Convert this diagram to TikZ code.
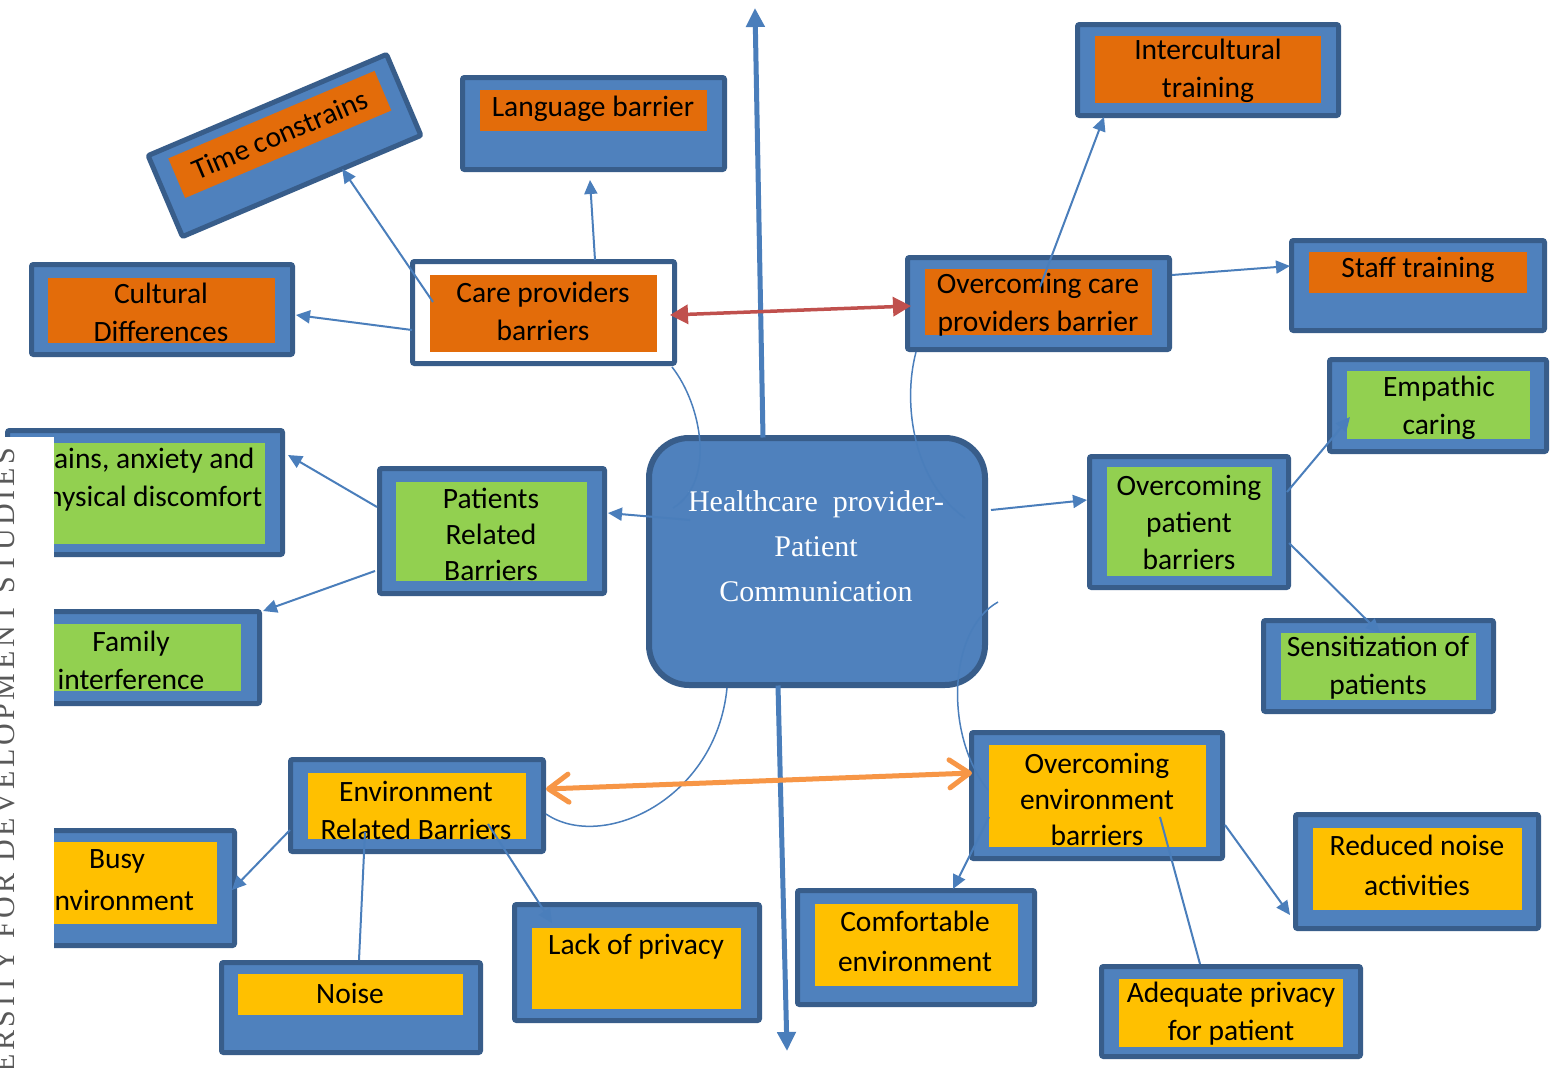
\documentclass[tikz,border=0pt]{standalone}
\usepackage{fontspec}
\setmainfont{Carlito}
\newfontfamily\hubface{Liberation Serif}
\newfontfamily\markface{Liberation Serif}[LetterSpace=12]
\usetikzlibrary{arrows.meta,calc}

\definecolor{bdr}{HTML}{385D8A}
\definecolor{panel}{HTML}{4F81BD}
\definecolor{orng}{HTML}{E36C0A}
\definecolor{grn}{HTML}{92D050}
\definecolor{ylw}{HTML}{FFC000}
\definecolor{link}{HTML}{4A7EBB}
\definecolor{redlink}{HTML}{C0504D}
\definecolor{orlink}{HTML}{F79646}

\tikzset{
  outerbox/.style={draw=bdr, fill=panel, line width=5pt, rounded corners=2pt, inner sep=0pt, outer sep=0pt},
  innerbox/.style={draw=none, inner sep=0pt, outer sep=0pt},
  lbl/.style={font=\fontsize{29.5}{38}\selectfont, align=center, inner sep=0pt, text=black},
  conn/.style={draw=link, line width=2pt},
  tipped/.style={-{Triangle[length=14pt,width=13pt]}},
  axisarrow/.style={draw=link, line width=5pt, -{Triangle[length=19pt,width=18pt]}}
}

% framed panel: style, name, x1, y1, x2, y2 (outer edges)
\newcommand{\panelbox}[6]{%
  \pgfmathsetmacro{\pw}{#5-#3-5}%
  \pgfmathsetmacro{\ph}{#6-#4-5}%
  \node[#1, minimum width=\pw pt, minimum height=\ph pt] (#2) at ({(#3+#5)/2},{(#4+#6)/2}) {};}
% coloured field inside a panel: colour, name, x1, y1, x2, y2
\newcommand{\fieldbox}[6]{%
  \pgfmathsetmacro{\pw}{#5-#3}%
  \pgfmathsetmacro{\ph}{#6-#4}%
  \node[innerbox, fill=#1, minimum width=\pw pt, minimum height=\ph pt] (#2) at ({(#3+#5)/2},{(#4+#6)/2}) {};}

\begin{document}
\begin{tikzpicture}[x=1pt, y=-1pt]
\useasboundingbox (0,0) rectangle (1551,1068);
\fill[white] (0,0) rectangle (1551,1068);

% axis arrows through the hub
\node[draw=bdr, fill=panel, line width=6pt, rounded corners=40pt, minimum width=336pt, minimum height=247pt, inner sep=0pt, outer sep=0pt] (hub) at (817,561.5) {};
\coordinate (axtop) at (755,8);
\coordinate (axbot) at (787,1051);
\draw[axisarrow] ([shift={(-54,-124)}]hub.center) -- (axtop);
\draw[axisarrow] ([shift={(-39,124)}]hub.center) -- (axbot);
\node[font=\hubface\fontsize{30}{45}\selectfont, text=white, align=center, inner sep=0pt] (hub-t) at (816,546) {Healthcare~ provider-\\Patient\\Communication};

% care provider side
\begin{scope}[shift={(284.5,145.5)}, rotate=23, transform shape]
  \node[outerbox, minimum width=259pt, minimum height=88pt] (time) at (0,0) {};
  \node[innerbox, fill=orng, minimum width=224pt, minimum height=43pt] (time-in) at (0,-12) {};
  \node[lbl] (time-t) at (0,-12) {Time constrains};
\end{scope}

\panelbox{outerbox}{lang}{460}{75}{727}{172}
\fieldbox{orng}{lang-in}{480}{90}{707}{131}
\node[lbl] (lang-t) at (593,109) {Language barrier};

\panelbox{outerbox}{cultural}{29}{262}{295}{357}
\fieldbox{orng}{cultural-in}{48}{278}{275}{343}
\node[lbl] (cultural-t) at (161,312) {Cultural\\Differences};

\panelbox{outerbox, fill=white}{care}{410}{259}{677}{366}
\fieldbox{orng}{care-in}{430}{275}{657}{352}
\node[lbl] (care-t) at (543,311) {Care providers\\barriers};

\panelbox{outerbox}{ocare}{905}{255}{1172}{352}
\fieldbox{orng}{ocare-in}{925}{269}{1152}{335}
\node[lbl] (ocare-t) at (1038,305) {Overcoming care\\providers barrier};

\panelbox{outerbox}{intercult}{1075}{22}{1341}{118}
\fieldbox{orng}{intercult-in}{1095}{36}{1321}{103}
\node[lbl] (intercult-t) at (1208,71) {Intercultural\\training};

\panelbox{outerbox}{staff}{1289}{238}{1547}{333}
\fieldbox{orng}{staff-in}{1309}{252}{1527}{293}
\node[lbl] (staff-t) at (1418,270) {Staff training};

% patient side
\panelbox{outerbox}{pains}{5}{428}{285}{557}
\fieldbox{grn}{pains-in}{25}{443}{265}{544}
\node[lbl] (pains-t) at (147,480) {Pains, anxiety and\\physical discomfort};

\panelbox{outerbox}{family}{1}{609}{262}{706}
\fieldbox{grn}{family-in}{21}{624}{241}{691}
\node[lbl] (family-t) at (131,660) {Family\\interference};

\panelbox{outerbox}{patients}{377}{466}{607}{596}
\fieldbox{grn}{patients-in}{396}{482}{587}{581}
\node[lbl, font=\fontsize{29.5}{36}\selectfont] (patients-t) at (491,534) {Patients\\Related\\Barriers};

\panelbox{outerbox}{opat}{1087}{454}{1291}{590}
\fieldbox{grn}{opat-in}{1107}{467}{1272}{576}
\node[lbl, font=\fontsize{29.5}{37}\selectfont] (opat-t) at (1189,522) {Overcoming\\patient\\barriers};

\panelbox{outerbox}{emp}{1327}{357}{1549}{454}
\fieldbox{grn}{emp-in}{1347}{371}{1530}{439}
\node[lbl] (emp-t) at (1439,408) {Empathic\\caring};

\panelbox{outerbox}{sens}{1261}{618}{1496}{714}
\fieldbox{grn}{sens-in}{1281}{633}{1476}{700}
\node[lbl] (sens-t) at (1378,668) {Sensitization of\\patients};

% environment side
\panelbox{outerbox}{env}{288}{757}{546}{854}
\fieldbox{ylw}{env-in}{308}{773}{526}{839}
\node[lbl] (env-t) at (416,810) {Environment\\Related Barriers};

\panelbox{outerbox}{busy}{-3}{828}{237}{948}
\fieldbox{ylw}{busy-in}{17}{842}{217}{924}
\node[lbl, font=\fontsize{29.5}{42}\selectfont] (busy-t) at (117,880) {Busy\\environment};

\panelbox{outerbox}{noise}{219}{960}{483}{1055}
\fieldbox{ylw}{noise-in}{238}{974}{463}{1015}
\node[lbl] (noise-t) at (350,993) {Noise};

\panelbox{outerbox}{lack}{512}{902}{762}{1023}
\fieldbox{ylw}{lack-in}{532}{928}{741}{1009}
\node[lbl] (lack-t) at (636,947) {Lack of privacy};

\panelbox{outerbox}{oenv}{969}{730}{1225}{861}
\fieldbox{ylw}{oenv-in}{989}{745}{1206}{847}
\node[lbl, font=\fontsize{29.5}{36}\selectfont] (oenv-t) at (1097,799) {Overcoming\\environment\\barriers};

\panelbox{outerbox}{comf}{795}{888}{1037}{1007}
\fieldbox{ylw}{comf-in}{815}{904}{1018}{986}
\node[lbl, font=\fontsize{29.5}{40}\selectfont] (comf-t) at (915,941) {Comfortable\\environment};

\panelbox{outerbox}{reduced}{1293}{812}{1541}{931}
\fieldbox{ylw}{reduced-in}{1313}{828}{1522}{910}
\node[lbl, font=\fontsize{29.5}{40}\selectfont] (reduced-t) at (1417,865) {Reduced noise\\activities};

\panelbox{outerbox}{adeq}{1099}{964}{1363}{1059}
\fieldbox{ylw}{adeq-in}{1119}{979}{1343}{1047}
\node[lbl] (adeq-t) at (1231,1014) {Adequate privacy\\for patient};

% connectors: care providers
\draw[conn, tipped] ([shift={(-131.5,17.5)}]care.center) -- ([shift={(134,5.5)}]cultural.center);
\draw[conn, tipped] ([shift={(-110.5,-10.5)}]care.center) -- ($(time.south west)!0.67!(time.south east)$);
\draw[conn, tipped] ([shift={(51.5,-52.5)}]care.center) -- ([shift={(-3.5,56.5)}]lang.center);
\draw[draw=redlink, line width=3.5pt, {Triangle[length=18pt,width=19pt]}-{Triangle[length=18pt,width=19pt]}]
  ([shift={(126.5,2.5)}]care.center) -- ([shift={(-127.5,2.5)}]ocare.center);
\draw[conn, tipped] ([shift={(1.5,-16.5)}]ocare.center) -- ([shift={(-104,47)}]intercult.center);
\draw[conn, tipped] ([shift={(133.5,-28.5)}]ocare.center) -- ([shift={(-128,-19.5)}]staff.center);
\draw[conn, line width=1.5pt] ([shift={(128.5,54.5)}]care.center) .. controls (702,405) and (716,482) .. ([shift={(-144,-53.5)}]hub.center);
\draw[conn, line width=1.5pt] ([shift={(-122.5,48.5)}]ocare.center) .. controls (902,405) and (914,482) .. ([shift={(148,-43.5)}]hub.center);

% connectors: patients
\draw[conn, tipped] ([shift={(-127,-41.5)}]hub.center) -- ([shift={(116,-18)}]patients.center);
\draw[conn, tipped] ([shift={(174,-51.5)}]hub.center) -- ([shift={(-102,-22)}]opat.center);
\draw[conn, tipped] ([shift={(-115,-24)}]patients.center) -- ([shift={(143,-37.5)}]pains.center);
\draw[conn, tipped] ([shift={(-117,40)}]patients.center) -- ([shift={(131.5,-46.5)}]family.center);
\draw[conn, tipped] ([shift={(98,-30)}]opat.center) -- ([shift={(-88,11.5)}]emp.center);
\draw[conn, tipped] ([shift={(100,21)}]opat.center) -- ([shift={(1.5,-33)}]sens.center);

% connectors: environment
\draw[conn, line width=1.5pt] ([shift={(-90,126.5)}]hub.center) .. controls (716,800) and (602,852) .. ([shift={(129,8.5)}]env.center);
\draw[conn, line width=1.5pt] ([shift={(181,40.5)}]hub.center) .. controls (948,630) and (944,735) .. ([shift={(-109,-5.5)}]oenv.center);
\draw[draw=orlink, line width=5pt, line cap=round, {Straight Barb[length=20pt,width=28pt,round]}-{Straight Barb[length=20pt,width=28pt,round]}]
  ([shift={(129,-16.5)}]env.center) -- ([shift={(-125,-22.5)}]oenv.center);
\draw[conn, tipped] ([shift={(-127,24.5)}]env.center) -- ([shift={(115,2)}]busy.center);
\draw[conn] ([shift={(-52,26.5)}]env.center) -- ([shift={(8,-47.5)}]noise.center);
\draw[conn, tipped] ([shift={(71,18.5)}]env.center) -- ([shift={(-85,-39.5)}]lack.center);
\draw[conn, tipped] ([shift={(-108,21.5)}]oenv.center) -- ([shift={(37,-58.5)}]comf.center);
\draw[conn, tipped] ([shift={(128,29.5)}]oenv.center) -- ([shift={(-127,43.5)}]reduced.center);
\draw[conn] ([shift={(63,21.5)}]oenv.center) -- ([shift={(-31,-47.5)}]adeq.center);

% page margin strip with running title
\fill[white] (0,437) rectangle (54,1068);
\node[font=\markface\fontsize{30}{32}\selectfont, text=black!65, rotate=90, anchor=base east, inner sep=0pt] (mark) at (14,448) {ERSITY FOR DEVELOPMENT STUDIES};
\end{tikzpicture}
\end{document}
